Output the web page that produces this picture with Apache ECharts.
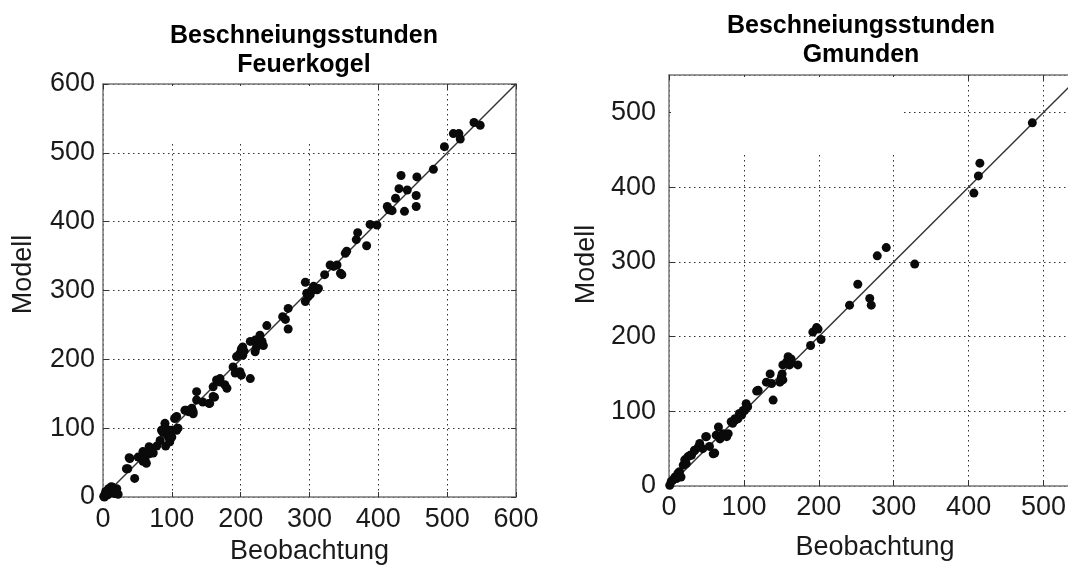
<!DOCTYPE html>
<html>
<head>
<meta charset="utf-8">
<script src="https://cdn.jsdelivr.net/npm/echarts@6/dist/echarts.min.js"></script>
<style>
  html, body { margin: 0; padding: 0; background: #fff; }
  #chart { width: 1068px; height: 568px; }
</style>
</head>
<body>
<div id="chart"></div>
<script>
// Beobachtung vs. Modell: [beobachtung, modell]
var feuerkogelPoints = [
  [1, 1], [3, 4], [2, 0], [5, 5], [7, 3], [10, 10], [12, 15], [15, 7], [17, 5], [20, 12],
  [8, 12], [14, 14], [19, 8], [22, 4], [4, 8],
  [34, 41], [36, 41], [39, 56], [46, 27], [38, 57], [51, 58], [56, 56], [58, 52], [61, 55], [63, 49],
  [58, 66], [67, 73], [70, 70], [68, 63], [73, 64], [78, 74], [83, 82], [85, 97], [87, 94], [90, 107],
  [89, 100], [92, 93], [91, 74], [92, 99], [95, 87], [97, 80], [99, 97], [100, 87], [104, 114], [107, 117],
  [109, 100], [107, 97], [119, 126], [121, 126], [124, 124], [129, 129], [131, 121], [131, 124], [136, 153], [136, 141],
  [145, 138], [154, 136], [155, 136], [160, 146], [162, 145], [160, 160], [165, 170], [170, 167], [170, 172], [177, 163],
  [180, 158], [189, 189], [192, 180], [194, 204], [199, 182], [199, 209], [201, 177], [201, 215], [203, 218], [203, 206],
  [205, 212], [214, 172], [214, 226], [221, 228], [221, 211], [223, 218], [228, 235], [231, 226], [233, 220], [238, 249],
  [261, 262], [265, 258], [269, 274], [269, 244], [294, 312], [294, 284], [296, 296], [298, 291], [301, 294], [303, 300],
  [306, 306], [311, 301], [313, 303], [322, 323], [330, 337], [335, 335], [340, 337], [345, 325], [347, 323], [352, 354],
  [354, 357], [368, 374], [370, 384], [383, 365], [388, 396], [398, 395], [413, 422], [415, 418], [417, 417], [420, 416],
  [425, 434], [430, 448], [433, 467], [438, 415], [442, 446], [455, 438], [455, 422], [456, 465], [480, 476], [496, 509],
  [509, 528], [517, 528], [519, 520], [539, 544], [548, 540]
];

var gmundenPoints = [
  [1, 1], [3, 6], [5, 8], [8, 12], [10, 10], [12, 17], [14, 19], [16, 12], [19, 28], [21, 35],
  [23, 30], [25, 39], [28, 41], [30, 41], [34, 48], [34, 47], [39, 52], [41, 57], [45, 50], [50, 66],
  [49, 66], [54, 53], [59, 43], [61, 44], [63, 68], [66, 79], [68, 63], [72, 70], [77, 66], [79, 70],
  [83, 86], [85, 84], [88, 88], [88, 90], [92, 90], [94, 97], [97, 95], [99, 101], [101, 101], [103, 110],
  [105, 106], [117, 127], [119, 128], [130, 139], [135, 150], [137, 137], [139, 115], [148, 139], [150, 146], [151, 150],
  [152, 142], [152, 162], [157, 166], [159, 173], [161, 162], [163, 170], [163, 166], [172, 162], [189, 188], [192, 206],
  [197, 212], [199, 210], [203, 196], [241, 242], [252, 270], [268, 251], [270, 242], [278, 308], [290, 319], [328, 297],
  [407, 392], [413, 415], [415, 432], [485, 486]
];

var feuerkogelMax = 600;
var gmundenMax = 550;
var tickStep = 100;

var FONT = 'Liberation Sans';
var chart = echarts.init(document.getElementById('chart'));

function gridLineStyle() {
  return { show: true, lineStyle: { color: '#333', width: 1, type: [1.5, 3.5] } };
}

function valueAxis(gridIndex, max, position, main, labelMargin, extra) {
  var ax = {
    type: 'value',
    gridIndex: gridIndex,
    position: position,
    min: 0,
    max: max,
    interval: tickStep,
    axisLine: { show: true, onZero: false, lineStyle: { color: '#777', width: 1.5 } },
    axisTick: { show: true, inside: true, length: 5, lineStyle: { color: '#333' } },
    axisLabel: {
      show: main,
      margin: labelMargin,
      fontFamily: FONT,
      fontSize: 27,
      color: '#1a1a1a'
    },
    splitLine: main ? gridLineStyle() : { show: false }
  };
  if (extra) {
    for (var k in extra) ax[k] = extra[k];
  }
  return ax;
}

var nameStyleX = { fontFamily: FONT, fontSize: 27, color: '#1a1a1a' };
var nameStyleY = { fontFamily: FONT, fontSize: 27, color: '#1a1a1a', padding: [0, 0, 0, 32] };
var titleStyle = { fontFamily: FONT, fontSize: 25, fontWeight: 'bold', color: '#000', lineHeight: 29 };

var option = {
  animation: false,
  backgroundColor: '#fff',
  title: [
    { text: 'Beschneiungsstunden\nFeuerkogel', left: 299, top: 17, textAlign: 'center', textStyle: titleStyle },
    { text: 'Beschneiungsstunden\nGmunden', left: 856, top: 7, textAlign: 'center', textStyle: titleStyle }
  ],
  grid: [
    { left: 103, top: 84, width: 413, height: 413, show: false, containLabel: false, outerBoundsMode: 'none' },
    { left: 669, top: 75, width: 412, height: 411, show: false, containLabel: false, outerBoundsMode: 'none' }
  ],
  xAxis: [
    valueAxis(0, feuerkogelMax, 'bottom', true, 9, {
      name: 'Beobachtung', nameLocation: 'middle', nameGap: 38, nameTextStyle: nameStyleX
    }),
    valueAxis(0, feuerkogelMax, 'top', false, 8),
    valueAxis(1, gmundenMax, 'bottom', true, 8, {
      name: 'Beobachtung', nameLocation: 'middle', nameGap: 48, nameTextStyle: nameStyleX
    }),
    valueAxis(1, gmundenMax, 'top', false, 8)
  ],
  yAxis: [
    valueAxis(0, feuerkogelMax, 'left', true, 8, {
      name: 'Modell', nameLocation: 'middle', nameRotate: 90, nameGap: 66, nameTextStyle: nameStyleY
    }),
    valueAxis(0, feuerkogelMax, 'right', false, 8),
    valueAxis(1, gmundenMax, 'left', true, 13, {
      name: 'Modell', nameLocation: 'middle', nameRotate: 90, nameGap: 69, nameTextStyle: nameStyleY
    }),
    valueAxis(1, gmundenMax, 'right', false, 8)
  ],
  series: [
    {
      type: 'line', xAxisIndex: 0, yAxisIndex: 0, z: 3,
      data: [[0, 0], [feuerkogelMax, feuerkogelMax]],
      symbol: 'none', lineStyle: { color: '#333', width: 1.5 }, silent: true
    },
    {
      type: 'scatter', xAxisIndex: 0, yAxisIndex: 0, z: 4,
      data: feuerkogelPoints, symbol: 'circle', symbolSize: 9,
      itemStyle: { color: '#0a0a0a', opacity: 1 }
    },
    {
      type: 'line', xAxisIndex: 2, yAxisIndex: 2, z: 3,
      data: [[0, 0], [gmundenMax, gmundenMax]],
      symbol: 'none', lineStyle: { color: '#333', width: 1.5 }, silent: true
    },
    {
      type: 'scatter', xAxisIndex: 2, yAxisIndex: 2, z: 4,
      data: gmundenPoints, symbol: 'circle', symbolSize: 9,
      itemStyle: { color: '#0a0a0a', opacity: 1 }
    }
  ]
};
option.yAxis[2].axisLabel.showMaxLabel = false;
option.xAxis[2].axisLabel.showMaxLabel = false;

chart.setOption(option);

// blank box in the upper left of each plot (the grid is hidden there in the original)
function boxShape(xi, yi, xEnd, yEnd, top) {
  var tl = chart.convertToPixel({ xAxisIndex: xi, yAxisIndex: yi }, [0, top]);
  var br = chart.convertToPixel({ xAxisIndex: xi, yAxisIndex: yi }, [xEnd, yEnd]);
  return { x: tl[0] + 2, y: tl[1] + 2, width: br[0] - tl[0] - 2, height: br[1] - tl[1] - 2 };
}

chart.setOption({
  graphic: [
    { type: 'rect', z: 1, silent: true, shape: boxShape(0, 0, 318, 515, feuerkogelMax), style: { fill: '#fff' } },
    { type: 'rect', z: 1, silent: true, shape: boxShape(2, 2, 312, 445, gmundenMax), style: { fill: '#fff' } }
  ]
});
</script>
</body>
</html>
